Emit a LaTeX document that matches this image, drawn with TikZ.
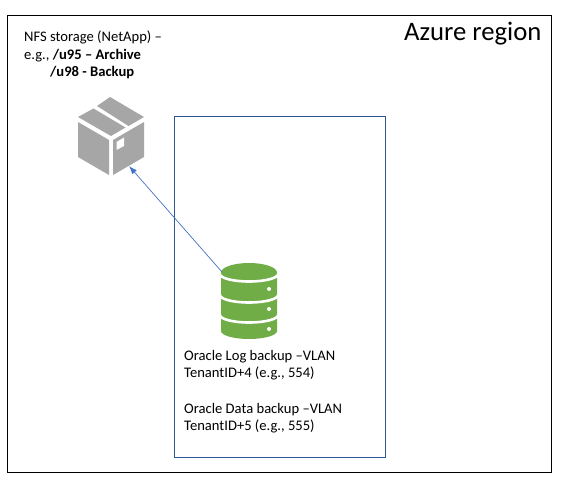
\documentclass[tikz,border=0pt]{standalone}
\usepackage{fontspec}
\setmainfont{Carlito}
\usepackage{tikz}
\usetikzlibrary{positioning,arrows.meta,calc}
\definecolor{vlanblue}{HTML}{2F5597}
\definecolor{arrowblue}{HTML}{4472C4}
\definecolor{boxgray}{HTML}{A6A6A6}
\definecolor{dbgreen}{HTML}{70AD47}

\begin{document}
\begin{tikzpicture}[
  x=1pt, y=-1pt,
  font=\fontsize{14.6}{17.5}\selectfont,
  region/.style={draw=black, line width=0.9pt, minimum width=544pt, minimum height=457pt, inner sep=0pt},
  vlan/.style={draw=vlanblue, line width=0.8pt, minimum width=211pt, minimum height=341pt, inner sep=0pt},
  icon/.style={minimum width=#1, inner sep=0pt},
  lbl/.style={align=left, inner sep=0pt, anchor=north west},
  arr/.style={-{Latex[length=8pt,width=6pt]}, draw=arrowblue, line width=0.7pt},
  band/.style={draw=white, line width=2.6pt},
]
\useasboundingbox (0,0) rectangle (561,489);
\fill[white] (0,0) rectangle (561,489);

\node[region] (azure) at (279,243.5) {};
\node[vlan] (vlan) at (279.5,286.5) {};
\node[lbl, font=\fontsize{26.7}{30}\selectfont] (title) at (404,22) {Azure region};

\node[lbl] (nfs) at (24,31) {NFS storage (NetApp) –\\
  e.g., \textbf{/u95 – Archive}\\
  \hspace*{26pt}\textbf{/u98 - Backup}};

% package icon
\node[icon=66pt, minimum height=78pt] (pkg) at (111,136) {};
\fill[boxgray] (110,97) -- (144,117) -- (128.5,126) -- (97,106) -- cycle;
\fill[boxgray] (93.5,108.5) -- (125.5,127.5) -- (111,136) -- (78,117) -- cycle;
\fill[boxgray] (78,122) -- (109,140) -- (109,175) -- (78,157) -- cycle;
\fill[boxgray] (113,140) -- (144,122) -- (144,157) -- (113,175) -- cycle;
\fill[white] (116.5,142) -- (124,137.5) -- (124,146) -- (116.5,150) -- cycle;

% database icon
\node[icon=56pt, minimum height=76pt] (db) at (249,301) {};
\fill[dbgreen] (221,272.5) -- (221,331) arc[start angle=180, end angle=360, x radius=28, y radius=-8]
  -- (277,272.5) arc[start angle=0, end angle=180, x radius=28, y radius=-9.5] -- cycle;
\foreach \ypos in {274,295,315}
  \draw[band] (220,\ypos) arc[start angle=180, end angle=360, x radius=29, y radius=-7.5];
\foreach \ypos in {289,309,329}
  \fill[white] (269,\ypos) circle[radius=2];

\node[lbl] (logvlan) at (184,350) {Oracle Log backup –VLAN\\TenantID+4 (e.g., 554)};
\node[lbl] (datavlan) at (184,403) {Oracle Data backup –VLAN\\TenantID+5 (e.g., 555)};

\coordinate (dbout) at ($(db.north west)+(1,9)$);
\coordinate (pkgin) at ($(pkg.south east)+(-15,-9)$);
\draw[arr] (dbout) -- (pkgin);

\end{tikzpicture}
\end{document}
